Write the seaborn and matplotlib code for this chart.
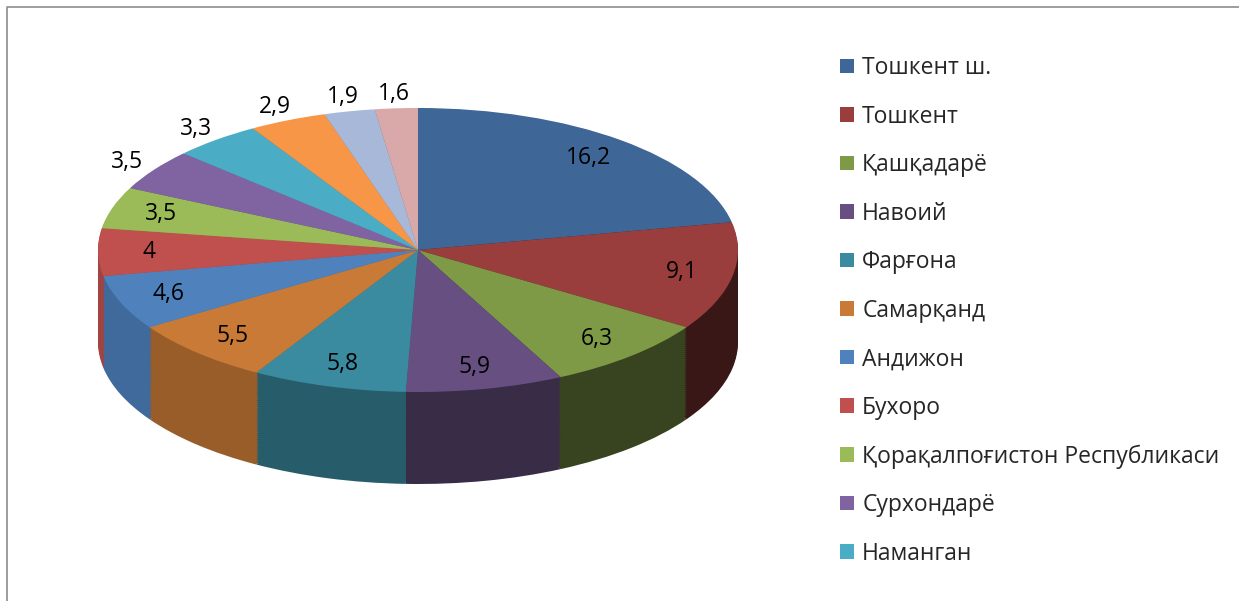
import numpy as np
import matplotlib
matplotlib.use('Agg')
import matplotlib.pyplot as plt
from matplotlib.lines import Line2D
import seaborn as sns

# region shares (the legend of the original is cut after 'Наманган')
regions = ['Тошкент ш.', 'Тошкент', 'Қашқадарё', 'Навоий', 'Фарғона', 'Самарқанд',
           'Андижон', 'Бухоро', 'Қорақалпоғистон Республикаси', 'Сурхондарё',
           'Наманган', 'Жиззах', 'Хоразм', 'Сирдарё']
values = [16.2, 9.1, 6.3, 5.9, 5.8, 5.5, 4.6, 4.0, 3.5, 3.5, 3.3, 2.9, 1.9, 1.6]
value_labels = ['16,2', '9,1', '6,3', '5,9', '5,8', '5,5', '4,6', '4', '3,5', '3,5',
                '3,3', '2,9', '1,9', '1,6']
colors = ['#3e6696', '#9a3e3d', '#7f9a47', '#675081', '#3a8ba0', '#c87a36',
          '#4f81bd', '#c0504d', '#9bbb59', '#8064a2', '#4bacc6', '#f79646',
          '#a8b8d8', '#d9a9a9']
legend_count = 11

sns.set_theme(style='white')
plt.rcParams['font.family'] = ['Open Sans', 'DejaVu Sans']

W, H = 1239, 601
fig = plt.figure(figsize=(W / 100, H / 100), dpi=100)
ax = fig.add_axes([0, 0, 1, 1])

# pie geometry in pixels -> squashed ellipse to fake the 3D tilt
cx, cy, rx, ry = 418, 250, 320, 142
depth = 92 / ry

# side wall: stack of darker pies below the top face
tmp = ax.pie(values, startangle=90, counterclock=False, radius=1)[0]
mids = np.array([((w.theta1 + w.theta2) / 2) % 360 for w in tmp])
for w in tmp:
    w.remove()
shade = 0.6 - 0.24 * np.cos(np.radians(mids))
side_colors = [tuple(np.array(matplotlib.colors.to_rgb(c)) * s) for c, s in zip(colors, shade)]

for d in np.linspace(depth, 0.01, 45):
    ax.pie(values, colors=side_colors, startangle=90, counterclock=False, radius=1,
           center=(0, -d), wedgeprops=dict(linewidth=0))

wedges, _ = ax.pie(values, colors=colors, startangle=90, counterclock=False, radius=1,
                   center=(0, 0), wedgeprops=dict(linewidth=0))

ax.set_aspect('auto')
ax.set_xlim(-cx / rx, (W - cx) / rx)
ax.set_ylim(-(H - cy) / ry, cy / ry)
ax.axis('off')

# data labels: inside for most slices, outside for thin slices at the back
for m, lab in zip(mids, value_labels):
    r = 1.1 if 90 < m < 150 else 0.84
    ax.text(r * np.cos(np.radians(m)), r * np.sin(np.radians(m)), lab,
            ha='center', va='center', fontsize=16.5, color='black')

ax.legend(wedges[:legend_count], regions[:legend_count], loc='upper left',
          bbox_to_anchor=(840 / W, 1 - 56 / H), bbox_transform=fig.transFigure,
          frameon=False, fontsize=16.5, handlelength=0.62, handleheight=0.62,
          handletextpad=0.35, labelspacing=1.07, borderpad=0, borderaxespad=0)

fig.add_artist(Line2D([7 / W, 7 / W, 1], [0, 1 - 7 / H, 1 - 7 / H],
                      transform=fig.transFigure, color='#8c8c8c', lw=1.2))

fig.savefig('out.png', dpi=100)
